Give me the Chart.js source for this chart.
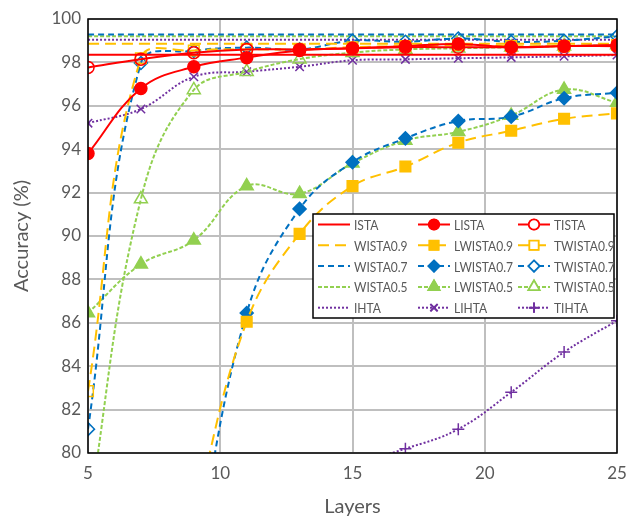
<!DOCTYPE html>
<html>
<head>
<meta charset="utf-8">
<script src="https://cdn.jsdelivr.net/npm/chart.js"></script>
<style>
  html, body { margin: 0; padding: 0; background: #fff; }
</style>
</head>
<body>
<canvas id="chart" width="629" height="522"></canvas>
<script>
// ---- data ----
const layers = [5, 7, 9, 11, 13, 15, 17, 19, 21, 23, 25];

const ista      = [98.35, 98.35, 98.35, 98.35, 98.35, 98.35, 98.35, 98.35, 98.35, 98.35, 98.35];
const lista     = [93.8, 96.8, 97.8, 98.22, 98.55, 98.65, 98.75, 98.85, 98.7, 98.75, 98.8];
const tista     = [97.77, 98.15, 98.45, 98.6, 98.6, 98.65, 98.7, 98.7, 98.7, 98.75, 98.75];

const wista09   = [98.86, 98.86, 98.86, 98.86, 98.86, 98.86, 98.86, 98.86, 98.86, 98.86, 98.86];
const lwista09  = [60, 68, 77, 86.05, 90.1, 92.3, 93.2, 94.3, 94.85, 95.4, 95.65];
const twista09  = [82.85, 98.19, 98.55, 98.6, 98.6, 98.7, 98.75, 98.8, 98.75, 98.75, 98.8];

const wista07   = [99.28, 99.28, 99.28, 99.28, 99.28, 99.28, 99.28, 99.28, 99.28, 99.28, 99.28];
const lwista07  = [50, 62, 74.5, 86.45, 91.25, 93.4, 94.5, 95.3, 95.5, 96.35, 96.6];
const twista07  = [81.1, 97.97, 98.53, 98.68, 98.6, 99.0, 98.95, 99.1, 98.95, 99.0, 99.2];

const wista05   = [99.2, 99.2, 99.2, 99.2, 99.2, 99.2, 99.2, 99.2, 99.2, 99.2, 99.2];
const lwista05  = [86.45, 88.7, 89.8, 92.3, 91.95, 93.35, 94.4, 94.8, 95.55, 96.75, 96.15];
const twista05  = [77, 91.7, 96.73, 97.57, 98.15, 98.45, 98.6, 98.65, 98.7, 98.75, 98.8];

const ihta      = [99.04, 99.04, 99.04, 99.04, 99.04, 99.04, 99.04, 99.04, 99.04, 99.04, 99.04];
const lihta     = [95.2, 95.85, 97.34, 97.57, 97.8, 98.1, 98.14, 98.19, 98.23, 98.28, 98.34];
const tihta     = [77, 77.5, 78, 78.5, 79, 79.5, 80.2, 81.1, 82.8, 84.65, 86.1];

const yTicks = [80, 82, 84, 86, 88, 90, 92, 94, 96, 98, 100];

// ---- styling ----
const RED = "#FF0000", YEL = "#FFC000", BLU = "#0070C0", GRN = "#92D050", PUR = "#7030A0";
const TXT = "#595959";

function series(label, data, color, dash, marker, filled, r) {
    return {
        label, data: data.map((v, i) => ({ x: layers[i], y: v })),
        borderColor: color, borderWidth: 2, borderDash: dash,
        tension: 0.4,
        pointStyle: marker || false,
        pointRadius: marker ? r : 0,
        pointBorderColor: color,
        pointBackgroundColor: filled ? color : "rgba(0,0,0,0)",
        pointBorderWidth: 1.5,
        _filled: filled
    };
}

const LONG = [11, 6], DASH = [6, 4], SDASH = [4, 2], DOT = [2, 2];

const datasets = [
    series("ISTA", ista, RED, [], null),
    series("LISTA", lista, RED, [], "circle", true, 6),
    series("TISTA", tista, RED, [], "circle", false, 6),
    series("WISTA0.9", wista09, YEL, LONG, null),
    series("LWISTA0.9", lwista09, YEL, LONG, "rect", true, 7.5),
    series("TWISTA0.9", twista09, YEL, LONG, "rect", false, 7.5),
    series("WISTA0.7", wista07, BLU, DASH, null),
    series("LWISTA0.7", lwista07, BLU, DASH, "rectRot", true, 6.5),
    series("TWISTA0.7", twista07, BLU, DASH, "rectRot", false, 6.5),
    series("WISTA0.5", wista05, GRN, SDASH, null),
    series("LWISTA0.5", lwista05, GRN, SDASH, "triangle", true, 7.5),
    series("TWISTA0.5", twista05, GRN, SDASH, "triangle", false, 7.5),
    series("IHTA", ihta, PUR, DOT, null),
    series("LIHTA", lihta, PUR, DOT, "crossRot", false, 6),
    series("TIHTA", tihta, PUR, DOT, "cross", false, 6)
];

// black frame round the plot area
const framePlugin = {
    id: "frame",
    afterDatasetsDraw(chart) {
        const a = chart.chartArea, ctx = chart.ctx;
        ctx.save();
        ctx.strokeStyle = "#000";
        ctx.lineWidth = 1.5;
        ctx.strokeRect(a.left, a.top, a.right - a.left, a.bottom - a.top);
        ctx.restore();
    }
};

// 3-column legend inside the plot, like the Excel one
const legendPlugin = {
    id: "boxLegend",
    afterDraw(chart) {
        const ctx = chart.ctx;
        const bx = 313, by = 214, bw = 301, bh = 104;
        ctx.save();
        ctx.fillStyle = "#fff";
        ctx.fillRect(bx, by, bw, bh);
        ctx.strokeStyle = "#000";
        ctx.lineWidth = 1.5;
        ctx.strokeRect(bx, by, bw, bh);
        ctx.textBaseline = "middle";
        chart.data.datasets.forEach((ds, i) => {
            const col = i % 3, row = Math.floor(i / 3);
            const x0 = 318 + col * 100, y = 224.5 + row * 20.8;
            ctx.strokeStyle = ds.borderColor;
            ctx.lineWidth = 2;
            ctx.setLineDash(ds.borderDash);
            ctx.beginPath();
            ctx.moveTo(x0, y);
            ctx.lineTo(x0 + 32, y);
            ctx.stroke();
            ctx.setLineDash([]);
            if (ds.pointStyle) {
                Chart.helpers.drawPoint(ctx, {
                    pointStyle: ds.pointStyle, radius: ds.pointRadius * 0.85,
                    borderWidth: 1.5, rotation: 0
                }, x0 + 16, y);
                ctx.fillStyle = ds._filled ? ds.borderColor : "#fff";
                ctx.strokeStyle = ds.borderColor;
                ctx.lineWidth = 1.5;
                if (ds._filled || ds.pointStyle.indexOf("cross") < 0) ctx.fill();
                ctx.stroke();
            }
            // Calibri is narrower than Lato, squeeze a bit
            ctx.save();
            ctx.translate(x0 + 36, y + 1);
            ctx.scale(0.86, 1);
            ctx.font = "14px Lato";
            ctx.fillStyle = TXT;
            ctx.fillText(ds.label, 0, 0);
            ctx.restore();
        });
        ctx.restore();
    }
};

Chart.defaults.font.family = "Lato";
Chart.defaults.color = TXT;

new Chart(document.getElementById("chart"), {
    type: "line",
    data: { datasets },
    options: {
        responsive: false,
        animation: false,
        layout: { padding: { left: 0, right: 12, top: 19, bottom: 0 } },
        plugins: { legend: { display: false }, tooltip: { enabled: false } },
        scales: {
            x: {
                type: "linear", min: 5, max: 25,
                ticks: { stepSize: 5, padding: 10, font: { size: 17 }, color: TXT },
                grid: { color: "#BFBFBF", lineWidth: 2, drawTicks: false },
                border: { display: false },
                title: { display: true, text: "Layers", font: { size: 20 }, color: TXT, padding: { top: 0, bottom: 3 } },
                afterFit(s) { s.height = 69; s.paddingLeft = 0; s.paddingRight = 0; }
            },
            y: {
                min: 80, max: 100,
                afterBuildTicks(s) { s.ticks = yTicks.map(v => ({ value: v })); },
                ticks: { padding: 7, font: { size: 17 }, color: TXT },
                grid: { color: "#BFBFBF", lineWidth: 2, drawTicks: false },
                border: { display: false },
                title: { display: true, text: "Accuracy (%)", font: { size: 20 }, color: TXT, padding: { top: 10, bottom: 0 } },
                afterFit(s) { s.width = 88; s.paddingTop = 0; s.paddingBottom = 0; }
            }
        }
    },
    plugins: [framePlugin, legendPlugin]
});
</script>
</body>
</html>
